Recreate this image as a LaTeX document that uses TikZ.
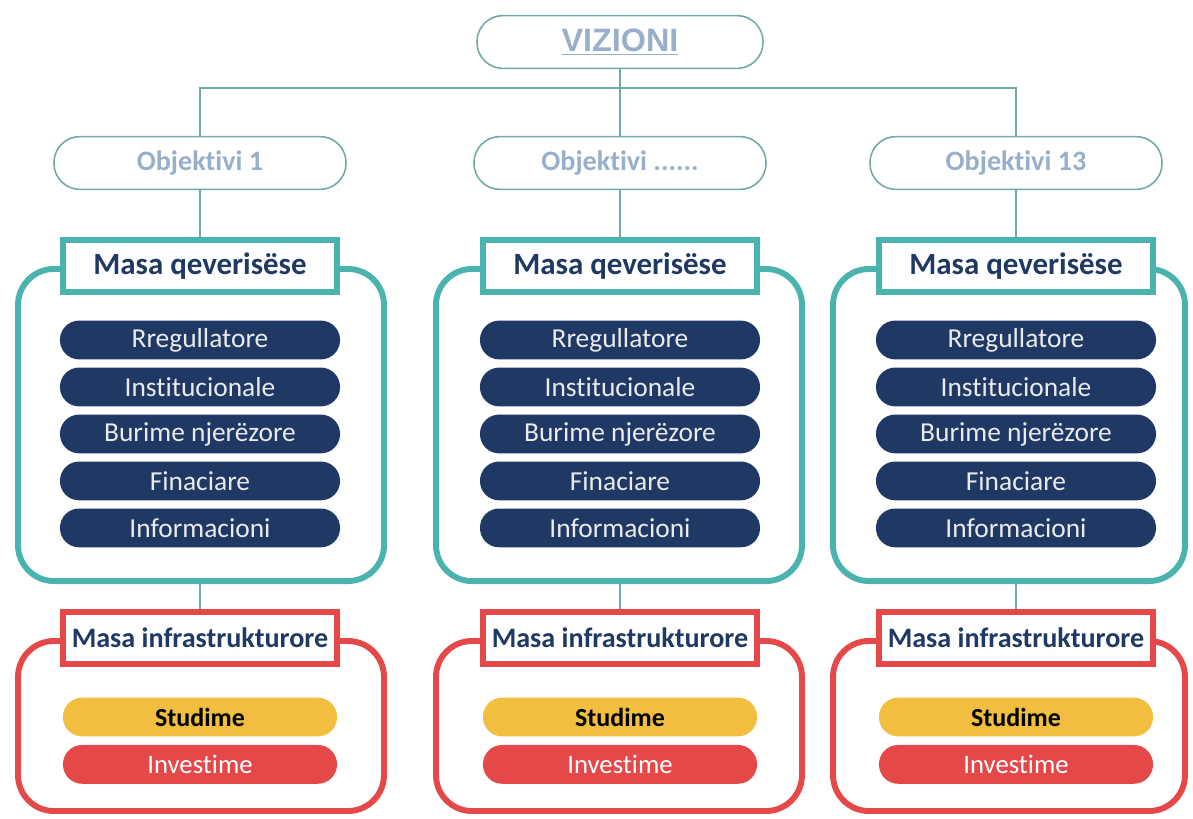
\documentclass[tikz,border=0pt]{standalone}
\usepackage{fontspec}
\setmainfont{Carlito}[Ligatures={NoCommon}]
\newfontfamily\vizfont{Liberation Sans}
\usepackage{tikz}
\usetikzlibrary{positioning}

\definecolor{tealb}{HTML}{4BB3AE}
\definecolor{navyb}{HTML}{1F3864}
\definecolor{redb}{HTML}{E54848}
\definecolor{yellowb}{HTML}{F1BE3F}
\definecolor{linec}{HTML}{6FA9A8}
\definecolor{objtxt}{HTML}{98AFCC}

\tikzset{
	conn/.style={draw=linec, line width=1.2pt},
	toppill/.style={draw=linec, line width=1.1pt, fill=white, rounded corners=0.65cm,
		minimum width=7.3cm, minimum height=1.32cm, inner sep=0pt},
	govframe/.style={draw=tealb, line width=4.2pt, rounded corners=0.9cm, minimum height=7.8cm},
	infframe/.style={draw=redb, line width=4.2pt, rounded corners=0.9cm, minimum height=4.25cm},
	govlabel/.style={draw=tealb, line width=4.2pt, fill=white, minimum width=6.85cm, minimum height=1.3cm,
		inner sep=0pt, text=navyb, font=\fontsize{22}{24}\selectfont\bfseries},
	inflabel/.style={govlabel, draw=redb, font=\fontsize{20}{22}\selectfont\bfseries},
	navypill/.style={fill=navyb, rounded corners=0.48cm, minimum width=7cm, minimum height=0.97cm,
		inner sep=0pt, text=white!92!black, font=\fontsize{19.5}{21}\selectfont},
	studpill/.style={navypill, fill=yellowb, minimum width=6.85cm, text=black, font=\fontsize{18.5}{21}\selectfont\bfseries},
	invpill/.style={navypill, fill=redb, minimum width=6.85cm, text=white, font=\fontsize{19}{21}\selectfont}
}

\begin{document}
\begin{tikzpicture}[x=0.025cm, y=-0.025cm]
	\useasboundingbox (0,0) rectangle (1193,818);
	\node[toppill, minimum width=7.15cm] (viz) at (620,42) {\vizfont\fontsize{23}{25}\selectfont\bfseries\color{objtxt}\underline{VIZIONI}};
	\coordinate (bus) at (620,88);
	\foreach \i/\cx/\ccx/\cw/\obj in {1/200/201/366/{Objektivi 1}, 2/620/619/366/{Objektivi ......}, 3/1016/1009/352/{Objektivi 13}} {
		\node[toppill, text=objtxt, font=\fontsize{20}{22}\selectfont\bfseries] (o\i) at (\cx,163) {\obj};
		% masa qeverisese
		\node[govframe, minimum width=\cw*0.025cm] (c\i) at (\ccx,425) {};
		\node[govlabel] (q\i) at (\cx,266) {Masa qeverisëse};
		\node[navypill] (p\i-1) at (\cx,340) {Rregullatore};
		\node[navypill, below=0.19cm of p\i-1] (p\i-2) {Institucionale};
		\node[navypill, below=0.19cm of p\i-2] (p\i-3) {Burime njerëzore};
		\node[navypill, below=0.19cm of p\i-3] (p\i-4) {Finaciare};
		\node[navypill, below=0.19cm of p\i-4] (p\i-5) {Informacioni};
		% masa infrastrukturore
		\node[infframe, minimum width=\cw*0.025cm] (r\i) at (\ccx,726) {};
		\node[inflabel] (m\i) at (\cx,638) {Masa infrastrukturore};
		\node[studpill] (s\i) at (\cx,717) {Studime};
		\node[invpill, below=0.2cm of s\i] (v\i) {Investime};
		\draw[conn] (o\i.south) -- (q\i.north);
		\draw[conn] (m\i.north) -- (m\i.north |- c\i.south);
	}
	\draw[conn] (viz.south) -- (o2.north);
	\draw[conn] (o1.north) |- (bus) -| (o3.north);
\end{tikzpicture}
\end{document}
